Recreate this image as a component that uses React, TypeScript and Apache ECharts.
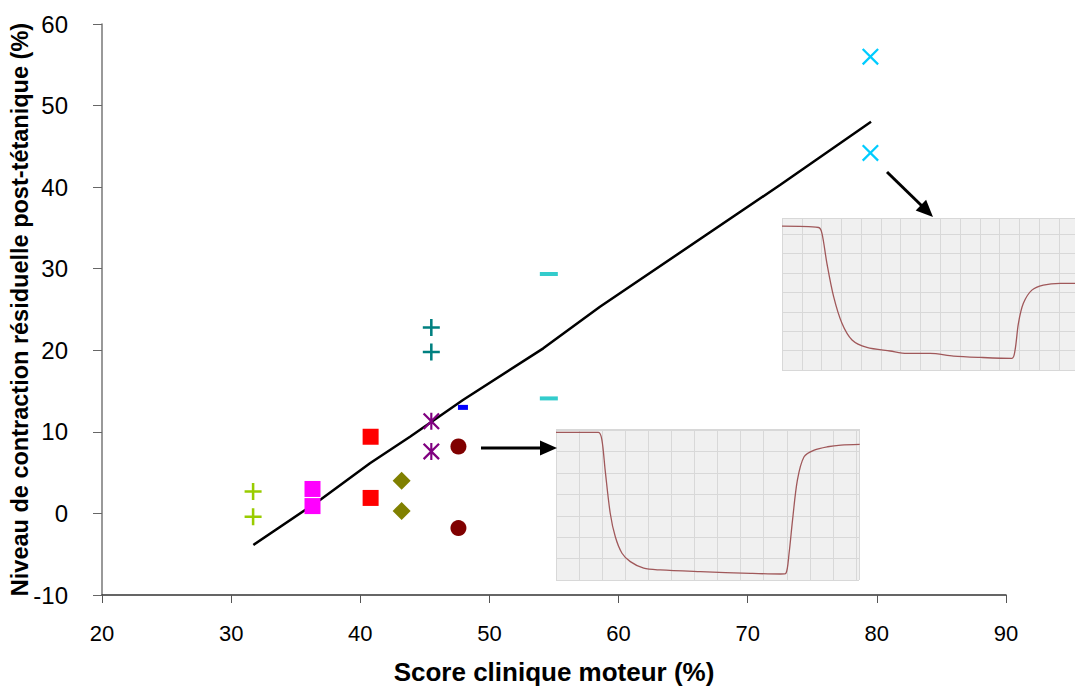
import React, { useEffect, useRef } from "react";
import * as echarts from "echarts";

// Main scatter groups [x, y]
const greenPlus = [[31.7, 2.7], [31.7, -0.4]];
const magentaSquares = [[36.3, 3.0], [36.3, 0.9]];
const redSquares = [[40.8, 9.4], [40.8, 1.9]];
const oliveDiamonds = [[43.2, 4.0], [43.2, 0.3]];
const darkRedCircles = [[47.6, 8.2], [47.6, -1.8]];
const purpleStars = [[45.5, 11.3], [45.5, 7.6]];
const tealPlus = [[45.5, 22.8], [45.5, 19.8]];
const blueDash = [[47.95, 13.0]];
const cyanDash = [[54.6, 29.35], [54.6, 14.1]];
const skyCross = [[79.5, 56.0], [79.5, 44.2]];

// Regression line
const trendX = [31.72, 36.88, 40.75, 43.85, 47.95, 54.17, 58.56, 72.5, 79.55];
const trendY = [-3.86, 1.65, 6.15, 9.41, 13.9, 20.24, 25.34, 40.26, 48.02];

// Inset traces (arbitrary units)
const trace1X = [0, 1.84, 1.99, 2.13, 2.35, 2.57, 2.86, 3.22, 3.8, 4.52, 6.26, 8.43, 9.74, 9.96, 10.1, 10.25, 10.46, 10.75, 11.19, 11.77, 12.35, 13.16];
const trace1Y = [6.9, 6.9, 6.54, 5.14, 3.12, 2.02, 1.25, 0.86, 0.55, 0.47, 0.39, 0.31, 0.28, 0.31, 1.25, 2.8, 4.67, 5.76, 6.07, 6.23, 6.31, 6.34];
const trace2X = [0, 1.85, 2.02, 2.27, 2.61, 3.03, 3.54, 4.29, 5.47, 6.31, 7.49, 8.67, 10.02, 11.62, 11.78, 11.95, 12.2, 12.63, 13.21, 14.06, 14.81];
const trace2Y = [7.42, 7.35, 7.05, 5.5, 3.78, 2.41, 1.55, 1.17, 0.98, 0.86, 0.86, 0.72, 0.65, 0.6, 1.03, 2.41, 3.44, 4.12, 4.38, 4.47, 4.47];

const xTitle = "Score clinique moteur (%)";
const yTitle = "Niveau de contraction résiduelle post-tétanique (%)";

const PLUS = "path://M6.8,0H9.2V16H6.8Z M0,6.8H16V9.2H0Z";
const CROSS = "path://M0,1.5L1.5,0L16,14.5L14.5,16Z M14.5,0L16,1.5L1.5,16L0,14.5Z";
const STAR = "path://M0,1.5L1.5,0L16,14.5L14.5,16Z M14.5,0L16,1.5L1.5,16L0,14.5Z M7,0H9V16H7Z";

const FONT = "Liberation Sans, Arial, sans-serif";

function zip(xs: number[], ys: number[]) {
  return xs.map((x, i) => [x, ys[i]]);
}

export default function App() {
  const ref = useRef<HTMLDivElement>(null);
  useEffect(() => {
    if (!ref.current) return;
    const chart = echarts.init(ref.current, undefined, { renderer: "svg" });
    const scatter = (data: number[][], symbol: string, size: any, color: string) => ({
      type: "scatter",
      xAxisIndex: 0,
      yAxisIndex: 0,
      data,
      symbol,
      symbolSize: size,
      itemStyle: { color, opacity: 1 },
      z: 5,
    });
    const insetAxis = (max: number, gridIndex: number) => ({
      type: "value",
      gridIndex,
      min: 0,
      max,
      interval: 1,
      z: 2,
      axisLine: { show: false },
      axisTick: { show: false },
      axisLabel: { show: false },
      splitLine: { show: true, lineStyle: { color: "#d8d8d8", width: 1 } },
    });
    chart.setOption({
      animation: false,
      backgroundColor: "#ffffff",
      grid: [
        { left: 102, right: 69, top: 24, bottom: 96, outerBoundsMode: "none", containLabel: false },
        { left: 556, right: 216, top: 429, bottom: 111, show: true, backgroundColor: "#f0f0f0", borderWidth: 0, outerBoundsMode: "none" },
        { left: 782, right: 0, top: 218, bottom: 321, show: true, backgroundColor: "#f0f0f0", borderWidth: 0, outerBoundsMode: "none" },
      ],
      xAxis: [
        {
          type: "value",
          gridIndex: 0,
          min: 20,
          max: 90,
          interval: 10,
          name: xTitle,
          nameLocation: "middle",
          nameGap: 64,
          nameMoveOverlap: false,
          nameTextStyle: { fontFamily: FONT, fontSize: 26, fontWeight: "bold", color: "#000" },
          axisLine: { show: true, onZero: false, lineStyle: { color: "#333", width: 1.5 } },
          axisTick: { show: true, length: 8, lineStyle: { color: "#555" } },
          axisLabel: { fontFamily: FONT, fontSize: 22, color: "#000", margin: 27 },
          splitLine: { show: false },
        },
        insetAxis(13.13, 1),
        insetAxis(14.81, 2),
      ],
      yAxis: [
        {
          type: "value",
          gridIndex: 0,
          min: -10,
          max: 60,
          interval: 10,
          name: yTitle,
          nameLocation: "middle",
          nameGap: 70,
          nameMoveOverlap: false,
          nameRotate: 90,
          nameTextStyle: { fontFamily: FONT, fontSize: 23.5, fontWeight: "bold", color: "#000" },
          axisLine: { show: true, onZero: false, lineStyle: { color: "#777", width: 1.5 } },
          axisTick: { show: true, length: 9, lineStyle: { color: "#666" } },
          axisLabel: { fontFamily: FONT, fontSize: 24, color: "#000", margin: 34 },
          splitLine: { show: false },
        },
        insetAxis(7.06, 1),
        insetAxis(7.84, 2),
      ],
      series: [
        {
          type: "line",
          xAxisIndex: 0,
          yAxisIndex: 0,
          data: zip(trendX, trendY),
          showSymbol: false,
          lineStyle: { color: "#000", width: 2.5 },
          z: 3,
        },
        scatter(greenPlus, PLUS, 17, "#99cc00"),
        scatter(magentaSquares, "rect", 16, "#ff00ff"),
        scatter(redSquares, "rect", 16, "#ff0000"),
        scatter(oliveDiamonds, "diamond", 18, "#808000"),
        scatter(darkRedCircles, "circle", 16, "#800000"),
        scatter(purpleStars, STAR, 17, "#800080"),
        scatter(tealPlus, PLUS, 17, "#008080"),
        scatter(blueDash, "rect", [10, 5], "#0000ff"),
        scatter(cyanDash, "rect", [18, 4], "#33cccc"),
        scatter(skyCross, CROSS, 17, "#00ccff"),
        {
          type: "line",
          xAxisIndex: 1,
          yAxisIndex: 1,
          data: zip(trace1X, trace1Y),
          showSymbol: false,
          smooth: 0.3,
          lineStyle: { color: "#a0585a", width: 1.3 },
          z: 4,
        },
        {
          type: "line",
          xAxisIndex: 2,
          yAxisIndex: 2,
          data: zip(trace2X, trace2Y),
          showSymbol: false,
          smooth: 0.3,
          lineStyle: { color: "#a0585a", width: 1.3 },
          z: 4,
        },
      ],
      graphic: [
        { type: "line", shape: { x1: 481, y1: 448, x2: 542, y2: 448 }, style: { stroke: "#000", lineWidth: 3 }, z: 10 },
        { type: "polygon", shape: { points: [[540, 440.5], [557, 448], [540, 455.5]] }, style: { fill: "#000" }, z: 10 },
        { type: "line", shape: { x1: 887, y1: 172, x2: 923, y2: 207 }, style: { stroke: "#000", lineWidth: 3 }, z: 10 },
        { type: "polygon", shape: { points: [[933, 217], [915.7, 210.5], [926.1, 199.7]] }, style: { fill: "#000" }, z: 10 },
      ],
    });
    return () => chart.dispose();
  }, []);
  return (
    <div
      ref={ref}
      style={{ position: "fixed", left: 0, top: 0, width: 1075, height: 691 }}
    />
  );
}
